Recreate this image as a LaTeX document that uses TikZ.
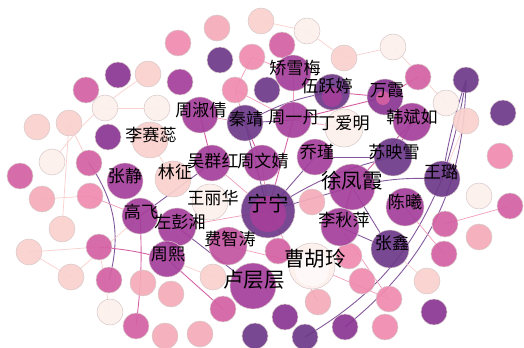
\documentclass[tikz,border=0pt]{standalone}
\usepackage{fontspec}
\newfontfamily\cjk{Noto Sans CJK SC}
\usepackage{tikz}
\usetikzlibrary{backgrounds}
\definecolor{rpA}{RGB}{253,240,237}
\definecolor{rpB}{RGB}{250,208,205}
\definecolor{rpC}{RGB}{245,170,184}
\definecolor{rpD}{RGB}{239,138,174}
\definecolor{rpE}{RGB}{212,96,163}
\definecolor{rpF}{RGB}{164,62,154}
\definecolor{rpG}{RGB}{138,52,146}
\definecolor{rpH}{RGB}{108,56,137}
\definecolor{rimgray}{RGB}{215,200,200}
\tikzstyle{leaf} = [circle, minimum size=0.52cm, inner sep=0pt, draw=rimgray, line width=0.3pt, fill opacity=0.92]
\tikzstyle{person} = [leaf, minimum size=0.72cm]
\tikzstyle{personw} = [leaf, minimum size=0.76cm]
\tikzstyle{bigperson} = [leaf, minimum size=0.92cm]
\tikzstyle{hubperson} = [leaf, minimum size=1.08cm]
\tikzstyle{lbl} = [inner sep=0pt, font=\cjk\fontsize{9.7}{11}\selectfont]
\tikzstyle{biglbl} = [inner sep=0pt, font=\cjk\fontsize{11.7}{13}\selectfont]
\tikzstyle{linkL} = [draw=rpB, line width=0.4pt]
\tikzstyle{linkD} = [draw=rpD!85, line width=0.4pt]
\tikzstyle{linkM} = [draw=rpE, line width=0.5pt]
\tikzstyle{linkP} = [draw=rpH!85, line width=0.5pt]

\begin{document}
\begin{tikzpicture}[x=0.02cm, y=-0.02cm]
\useasboundingbox (0,0) rectangle (524,348);

% Outer ring, top
\node[leaf, fill=rpD] (t1) at (178,43) {};
\node[leaf, fill=rpC] (t2) at (217,28) {};
\node[leaf, fill=rpB] (t3) at (261,21) {};
\node[leaf, fill=rpA] (t4) at (307,31) {};
\node[leaf, fill=rpE] (t5) at (282,45) {};
\node[leaf, fill=rpB] (t6) at (344,58) {};
\node[leaf, fill=rpA] (t7) at (393,47) {};
\node[leaf, fill=rpH] (t8) at (220,60) {};
\node[leaf, fill=rpD] (t9) at (252,57) {};
\node[leaf, fill=rpD] (t10) at (235,90) {};
\node[leaf, fill=rpH] (t11) at (267,90) {};
\node[leaf, fill=rpF] (t12) at (180,82) {};

% Outer ring, right
\node[leaf, fill=rpE] (r1) at (418,77) {};
\node[leaf, fill=rpH] (r2) at (466,80) {};
\node[leaf, fill=rpA] (r3) at (446,103) {};
\node[leaf, fill=rpH] (r4) at (503,113) {};
\node[leaf, fill=rpB] (r5) at (466,121) {};
\node[leaf, fill=rpD] (r6) at (500,156) {};
\node[leaf, fill=rpA] (r7) at (479,196) {};
\node[leaf, fill=rpE] (r8) at (510,206) {};
\node[leaf, fill=rpE] (r9) at (445,224) {};
\node[leaf, fill=rpC] (r10) at (479,237) {};
\node[leaf, fill=rpE] (r11) at (444,254) {};

% Outer ring, left
\node[leaf, fill=rpB] (l1) at (148,74) {};
\node[leaf, fill=rpG] (l2) at (118,75) {};
\node[leaf, fill=rpE] (l3) at (86,90) {};
\node[leaf, fill=rpA] (l4) at (105,108) {};
\node[leaf, fill=rpA] (l5) at (157,108) {};
\node[leaf, fill=rpB] (l6) at (37,127) {};
\node[leaf, fill=rpB] (l7) at (69,123) {};
\node[leaf, fill=rpG] (l8) at (108,137) {};
\node[leaf, fill=rpA] (l9) at (52,162) {};
\node[leaf, fill=rpE] (l10) at (89,163) {};
\node[leaf, fill=rpE] (l11) at (20,176) {};
\node[leaf, fill=rpC] (l12) at (42,199) {};
\node[leaf, fill=rpD] (l13) at (90,196) {};
\node[leaf, fill=rpB] (l14) at (62,229) {};
\node[leaf, fill=rpB] (l15) at (29,252) {};
\node[leaf, fill=rpE] (l16) at (99,247) {};
\node[leaf, fill=rpB] (l17) at (71,277) {};
\node[leaf, fill=rpE] (l18) at (109,280) {};

% Outer ring, bottom
\node[leaf, fill=rpC] (b1) at (143,283) {};
\node[leaf, fill=rpC] (b2) at (171,294) {};
\node[leaf, fill=rpA] (b3) at (110,312) {};
\node[leaf, fill=rpE] (b4) at (136,326) {};
\node[leaf, fill=rpC] (b5) at (165,336) {};
\node[leaf, fill=rpC] (b6) at (200,334) {};
\node[leaf, fill=rpB] (b7) at (213,277) {};
\node[leaf, fill=rpE] (b8) at (223,309) {};
\node[leaf, fill=rpH] (b9) at (255,336) {};
\node[leaf, fill=rpG] (b10) at (285,317) {};
\node[leaf, fill=rpH] (b11) at (305,337) {};
\node[leaf, fill=rpG] (b12) at (345,327) {};
\node[leaf, fill=rpC] (b13) at (318,302) {};
\node[leaf, fill=rpD] (b14) at (385,327) {};
\node[leaf, fill=rpD] (b15) at (389,299) {};
\node[leaf, fill=rpD] (b16) at (362,281) {};
\node[leaf, fill=rpD] (b17) at (349,256) {};
\node[leaf, fill=rpE] (b18) at (278,251) {};
\node[leaf, fill=rpC] (b19) at (312,202) {};
\node[leaf, fill=rpG] (b20) at (434,312) {};
\node[leaf, fill=rpB] (b21) at (427,281) {};

% Named people
\node[person, fill=rpF] (zhouShuqian) at (200,115) {};
\node[person, fill=rpH] (qinJing) at (245,123) {};
\node[person, fill=rpB] (liSairui) at (150,140) {};
\node[person, fill=rpF] (zhangJing) at (125,181) {};
\node[person, fill=rpB] (linZheng) at (173,179) {};
\node[person, fill=rpF] (wuQunhong) at (212,163) {};
\node[person, fill=rpF] (zhouWenjing) at (262,163) {};
\node[person, fill=rpF] (jiaoXuemei) at (293,73) {};
\node[person, fill=rpH] (wuYueting) at (332,92) {};
\node[leaf, fill=rpF, minimum size=0.4cm, draw=none] (wuYueting2) at (332,97) {};
\node[person, fill=rpF] (zhouYidan) at (293,120) {};
\node[personw, fill=rpA] (dingAiming) at (344,128) {};
\node[person, fill=rpF] (qiaoJin) at (315,157) {};
\node[person, fill=rpG] (wanXia) at (385,97) {};
\node[leaf, fill=rpE, minimum size=0.28cm, draw=none] (wanXia2) at (383,98) {};
\node[personw, fill=rpF] (hanBinru) at (412,122) {};
\node[personw, fill=rpH] (suYingxue) at (393,157) {};
\node[person, fill=rpH] (wangLu) at (442,179) {};
\node[bigperson, fill=rpF] (xuFengxia) at (352,187) {};
\node[personw, fill=rpF] (chenXi) at (405,207) {};
\node[personw, fill=rpF] (liQiuping) at (340,227) {};
\node[personw, fill=rpH] (zhangXin) at (390,249) {};
\node[bigperson, fill=rpA] (caoHuling) at (312,266) {};
\node[leaf, fill=white, minimum size=0.68cm, draw=none, fill opacity=0.6] (caoHuling2) at (312,269) {};
\node[hubperson, fill=rpH] (ningning) at (268,211) {};
\node[person, fill=rpF, draw=none] (ningning2) at (268,214) {};
\node[bigperson, fill=rpF] (luCengceng) at (253,286) {};
\node[personw, fill=rpE!60!rpF] (feiZhitao) at (228,246) {};
\node[person, fill=rpA] (wangLihua) at (210,202) {};
\node[personw, fill=rpF] (zuoPengxiang) at (177,227) {};
\node[person, fill=rpF] (gaoFei) at (140,216) {};
\node[person, fill=rpF] (zhouXi) at (167,259) {};

% Links
\begin{scope}[on background layer]
\draw[linkP] (r2.center) to[bend right=4] (wangLu.center);
\draw[linkP] (r2.center) to[bend left=4] (wangLu.center);
\draw[linkP] (wangLu.center) to[bend left=18] (b11.center);
\draw[linkP] (r2.center) to[bend left=25] (b12.center);
\draw[linkP] (zhangXin.center) -- (liQiuping.center);
\draw[linkP] (zhangXin.center) -- (xuFengxia.center);
\draw[linkP] (ningning.center) to[bend left=10] (suYingxue.center);
\draw[linkP] (ningning.center) -- (xuFengxia.center);
\draw[linkP] (ningning.center) -- (qiaoJin.center);
\draw[linkP] (ningning.center) -- (qinJing.center);
\draw[linkP] (xuFengxia.center) to[bend left=8] (wangLu.center);
\draw[linkP] (qinJing.center) -- (zhouYidan.center);
\draw[linkP] (l10.center) to[bend left=25] (l18.center);
\draw[linkP] (zuoPengxiang.center) -- (luCengceng.center);
\draw[linkP] (gaoFei.center) -- (wuQunhong.center);
\draw[linkP] (qiaoJin.center) -- (suYingxue.center);
\draw[linkP] (wuYueting.center) to[bend right=10] (qinJing.center);
\draw[linkM] (gaoFei.center) to[bend left=5] (b4.center);
\draw[linkM] (l16.center) to[bend left=5] (zhouXi.center);
\draw[linkM] (zhouXi.center) -- (b8.center);
\draw[linkM] (wanXia.center) -- (r1.center);
\draw[linkM] (zhouYidan.center) -- (wanXia.center);
\draw[linkM] (zhouShuqian.center) -- (wuQunhong.center);
\draw[linkM] (wuYueting.center) -- (wanXia.center);
\draw[linkM] (qinJing.center) -- (zhouWenjing.center);
\draw[linkM] (hanBinru.center) -- (xuFengxia.center);
\draw[linkM] (hanBinru.center) -- (suYingxue.center);
\draw[linkM] (ningning.center) -- (zhouYidan.center);
\draw[linkM] (xuFengxia.center) -- (liQiuping.center);
\draw[linkD] (t10.center) -- (t9.center);
\draw[linkD] (t10.center) -- (zhouYidan.center);
\draw[linkD] (t10.center) -- (qinJing.center);
\draw[linkD] (t9.center) -- (jiaoXuemei.center);
\draw[linkD] (jiaoXuemei.center) -- (zhouYidan.center);
\draw[linkD] (caoHuling.center) -- (b15.center);
\draw[linkD] (liQiuping.center) -- (b15.center);
\draw[linkD] (chenXi.center) -- (r11.center);
\draw[linkD] (r9.center) -- (r8.center);
\draw[linkD] (feiZhitao.center) -- (caoHuling.center);
\draw[linkD] (zuoPengxiang.center) -- (ningning.center);
\draw[linkD] (l13.center) -- (gaoFei.center);
\draw[linkD] (ningning.center) -- (zhouWenjing.center);
\draw[linkD] (ningning.center) -- (wuQunhong.center);
\draw[linkD] (ningning.center) -- (b13.center);
\draw[linkD] (zhouYidan.center) -- (dingAiming.center);
\draw[linkD] (zhouShuqian.center) -- (qinJing.center);
\draw[linkL] (l12.center) -- (l13.center);
\draw[linkL] (l15.center) -- (l16.center);
\draw[linkL] (l15.center) -- (l17.center);
\draw[linkL] (l17.center) -- (gaoFei.center);
\draw[linkL] (l14.center) -- (l7.center);
\draw[linkL] (l7.center) -- (l10.center);
\draw[linkL] (l1.center) to[bend right=10] (l9.center);
\draw[linkL] (l4.center) -- (l5.center);
\draw[linkL] (t3.center) -- (t4.center);
\draw[linkL] (t4.center) -- (t6.center);
\draw[linkL] (t6.center) -- (t7.center);
\draw[linkL] (t7.center) -- (r3.center);
\draw[linkL] (l16.center) -- (b3.center);
\draw[linkL] (b7.center) -- (zhouXi.center);
\draw[linkL] (liSairui.center) -- (linZheng.center);
\draw[linkL] (r5.center) -- (wangLu.center);
\draw[linkL] (b21.center) -- (zhangXin.center);
\end{scope}

% Names
\node[lbl] (nZhouShuqian) at (201,110) {周淑倩};
\node[lbl] (nQinJing) at (246,119) {秦靖};
\node[lbl] (nLiSairui) at (151,135) {李赛蕊};
\node[lbl] (nLinZheng) at (175,172) {林征};
\node[lbl] (nZhangJing) at (125,176) {张静};
\node[lbl] (nWuQunhong) at (213,161) {吴群红};
\node[lbl] (nZhouWenjing) at (263,161) {周文婧};
\node[lbl] (nJiaoXuemei) at (295,68) {矫雪梅};
\node[lbl] (nWuYueting) at (327,86) {伍跃婷};
\node[lbl] (nZhouYidan) at (294,117) {周一丹};
\node[lbl] (nDingAiming) at (344,123) {丁爱明};
\node[lbl] (nQiaoJin) at (317,152) {乔瑾};
\node[lbl] (nWanXia) at (387,90) {万霞};
\node[lbl] (nHanBinru) at (412,117) {韩斌如};
\node[lbl] (nSuYingxue) at (394,152) {苏映雪};
\node[lbl] (nWangLu) at (441,172) {王璐};
\node[biglbl] (nXuFengxia) at (352,181) {徐凤霞};
\node[lbl] (nChenXi) at (405,202) {陈曦};
\node[lbl] (nLiQiuping) at (344,220) {李秋萍};
\node[lbl] (nZhangXin) at (392,243) {张鑫};
\node[biglbl] (nCaoHuling) at (315,259) {曹胡玲};
\node[biglbl] (nNingning) at (268,204) {宁宁};
\node[biglbl] (nLuCengceng) at (254,280) {卢层层};
\node[lbl] (nFeiZhitao) at (230,239) {费智涛};
\node[lbl] (nWangLihua) at (213,198) {王丽华};
\node[lbl] (nZuoPengxiang) at (180,222) {左彭湘};
\node[lbl] (nGaoFei) at (141,212) {高飞};
\node[lbl] (nZhouXi) at (168,254) {周熙};
\end{tikzpicture}
\end{document}
